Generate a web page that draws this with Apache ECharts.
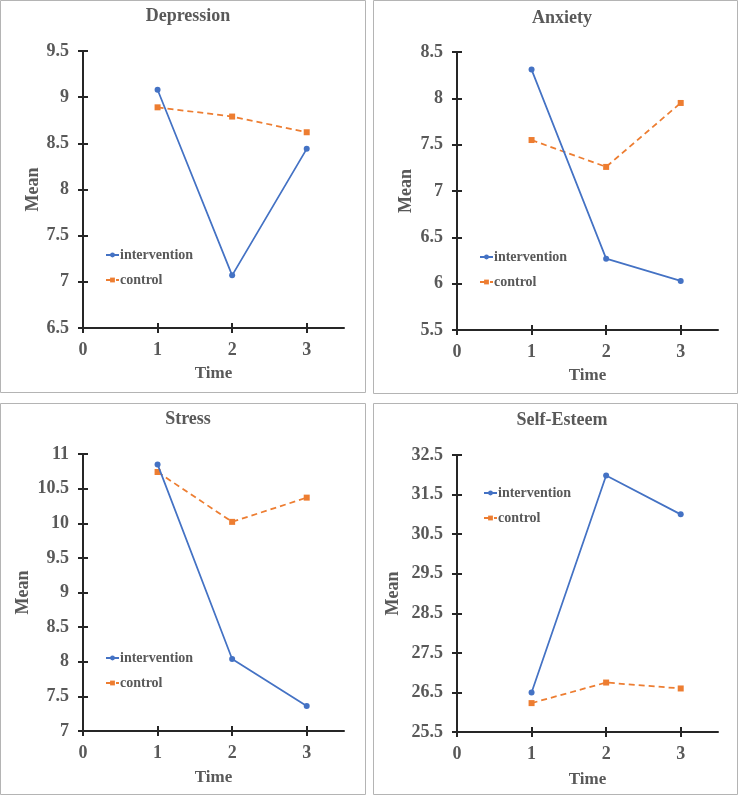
<!DOCTYPE html>
<html><head><meta charset="utf-8">
<script src="https://cdn.jsdelivr.net/npm/echarts@6/dist/echarts.min.js"></script>
<style>html,body{margin:0;padding:0;background:#fff}#c{width:740px;height:796px}</style>
</head><body><div id="c"></div>
<script>
// ---- data ----
const panelTitles = ['Depression', 'Anxiety', 'Stress', 'Self-Esteem'];
const seriesNames = ['intervention', 'control'];
const timePoints = [1, 2, 3];
const xTicks = [0, 1, 2, 3];
const depressionIntervention = [9.08, 7.07, 8.44];
const depressionControl = [8.89, 8.79, 8.62];
const anxietyIntervention = [8.31, 6.27, 6.03];
const anxietyControl = [7.55, 7.26, 7.95];
const stressIntervention = [10.85, 8.04, 7.36];
const stressControl = [10.74, 10.02, 10.37];
const esteemIntervention = [26.5, 31.98, 31.0];
const esteemControl = [26.23, 26.75, 26.6];
const depressionTicks = [6.5, 7, 7.5, 8, 8.5, 9, 9.5];
const anxietyTicks = [5.5, 6, 6.5, 7, 7.5, 8, 8.5];
const stressTicks = [7, 7.5, 8, 8.5, 9, 9.5, 10, 10.5, 11];
const esteemTicks = [25.5, 26.5, 27.5, 28.5, 29.5, 30.5, 31.5, 32.5];

const allData = [
  [depressionIntervention, depressionControl],
  [anxietyIntervention, anxietyControl],
  [stressIntervention, stressControl],
  [esteemIntervention, esteemControl]
];
const allTicks = [depressionTicks, anxietyTicks, stressTicks, esteemTicks];

// ---- layout ----
const FONT = "'Liberation Serif','Times New Roman',serif";
const GREY = '#595959';
const AX = '#262626';
const BLUE = '#4472C4';
const ORANGE = '#ED7D31';
const panels = [
  {box:[0.5,0.5,365,392], grid:{left:83,top:51,width:261,height:277}, title:[183,2], nameGap:41, xGap:37, legend:[105,248]},
  {box:[373.5,0.5,364,393], grid:{left:457,top:52,width:261,height:278}, title:[557,4], nameGap:42, xGap:37, legend:[479,250]},
  {box:[0.5,403.5,365,391], grid:{left:83,top:454,width:261,height:277}, title:[183,405], nameGap:51, xGap:38, legend:[105,651]},
  {box:[373.5,403.5,364,391], grid:{left:457,top:455,width:261,height:277}, title:[557,406], nameGap:55, xGap:39, legend:[483,486]}
];

const option = {
  animation: false,
  backgroundColor: '#fff',
  title: [], grid: [], xAxis: [], yAxis: [], series: [], legend: [], graphic: []
};

const n = panels.length;
panels.forEach((p, i) => {
  const ticks = allTicks[i];
  const ymin = ticks[0], ymax = ticks[ticks.length - 1];
  option.graphic.push({type:'rect', shape:{x:p.box[0], y:p.box[1], width:p.box[2], height:p.box[3]},
    style:{fill:'none', stroke:'#b4b4b4', lineWidth:1}, silent:true, z:-1});
  option.title.push({text: panelTitles[i], left: p.title[0], top: p.title[1], textAlign: 'center',
    textStyle:{fontFamily:FONT, fontWeight:'bold', fontSize:18, color:GREY}});
  option.grid[i] = Object.assign({containLabel:false}, p.grid);
  option.grid[n + i] = Object.assign({containLabel:false}, p.grid); // helper grid for inner tick halves
  // main x axis (labels + outside ticks)
  option.xAxis[i] = {type:'value', gridIndex:i, min:0, max:3.5, position:'bottom',
    name:'Time', nameLocation:'middle', nameGap:p.xGap,
    nameTextStyle:{fontFamily:FONT, fontWeight:'bold', fontSize:17, color:GREY},
    axisLine:{show:true, onZero:false, lineStyle:{color:AX, width:2}},
    axisTick:{show:true, inside:false, length:5, lineStyle:{color:AX, width:2}, customValues: xTicks},
    axisLabel:{fontFamily:FONT, fontWeight:'bold', fontSize:18, color:GREY, margin:13, customValues: xTicks},
    splitLine:{show:false}};
  option.xAxis[n + i] = {type:'value', gridIndex:n + i, min:0, max:3.5, position:'bottom',
    axisLine:{show:false, onZero:false},
    axisTick:{show:true, inside:true, length:5, lineStyle:{color:AX, width:2}, customValues: xTicks.slice(1)},
    axisLabel:{show:false}, splitLine:{show:false}};
  // main y axis
  option.yAxis[i] = {type:'value', gridIndex:i, min:ymin, max:ymax, position:'left',
    name:'Mean', nameLocation:'middle', nameGap:p.nameGap, nameRotate:90,
    nameTextStyle:{fontFamily:FONT, fontWeight:'bold', fontSize:18, color:GREY},
    axisLine:{show:true, onZero:false, lineStyle:{color:AX, width:2}},
    axisTick:{show:true, inside:false, length:5, lineStyle:{color:AX, width:2}, customValues: ticks},
    axisLabel:{fontFamily:FONT, fontWeight:'bold', fontSize:18, color:GREY, margin:14, customValues: ticks},
    splitLine:{show:false}};
  option.yAxis[n + i] = {type:'value', gridIndex:n + i, min:ymin, max:ymax, position:'left',
    axisLine:{show:false, onZero:false},
    axisTick:{show:true, inside:true, length:5, lineStyle:{color:AX, width:2}, customValues: ticks},
    axisLabel:{show:false}, splitLine:{show:false}};

  const [iv, ct] = allData[i];
  option.series.push({name: seriesNames[0], type:'line', xAxisIndex:i, yAxisIndex:i,
    data: timePoints.map((t, k) => [t, iv[k]]), symbol:'circle', symbolSize:6,
    lineStyle:{color:BLUE, width:1.75}, itemStyle:{color:BLUE}, z:3});
  option.series.push({name: seriesNames[1], type:'line', xAxisIndex:i, yAxisIndex:i,
    data: timePoints.map((t, k) => [t, ct[k]]), symbol:'rect', symbolSize:6,
    lineStyle:{color:ORANGE, width:1.75, type:[6,4]}, itemStyle:{color:ORANGE}, z:2});
  option.legend.push({data: seriesNames, orient:'vertical', left:p.legend[0], top:p.legend[1],
    padding:0, itemWidth:13, itemHeight:6, itemGap:11, selectedMode:false,
    textStyle:{fontFamily:FONT, fontWeight:'bold', fontSize:14, color:GREY, padding:[0,0,0,-4]}});
});

const chart = echarts.init(document.getElementById('c'), null, {renderer:'canvas'});
chart.setOption(option);
</script>
</body></html>
